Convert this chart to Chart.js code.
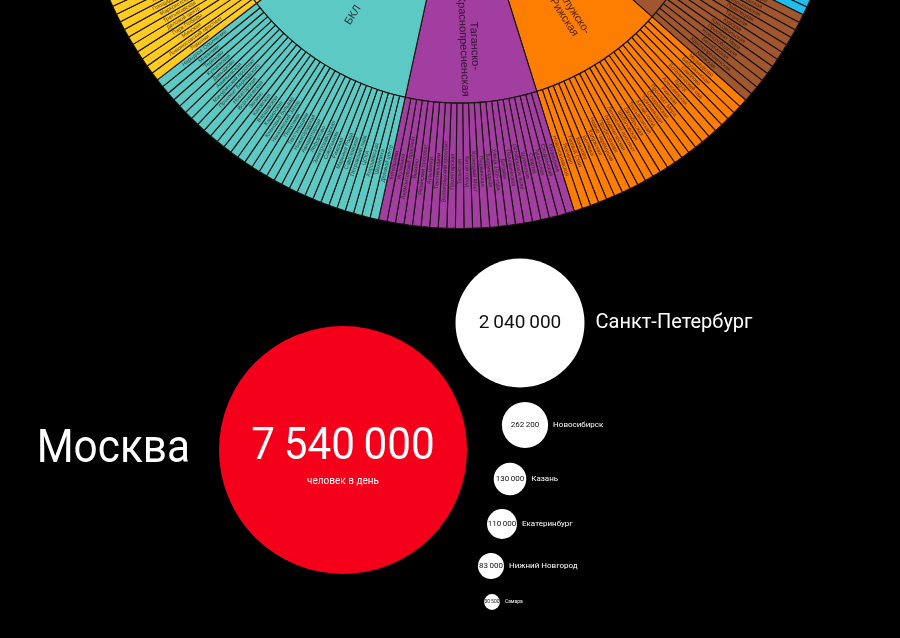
<!DOCTYPE html>
<html lang="ru">
<head>
<meta charset="utf-8">
<script src="https://cdn.jsdelivr.net/npm/chart.js@4.4.1/dist/chart.umd.min.js"></script>
<style>
  html,body{margin:0;padding:0;background:#000;width:900px;height:638px;overflow:hidden;}
  #sun{position:absolute;left:77px;top:-537px;}
  #bub{position:absolute;left:0;top:0;z-index:2;}
</style>
</head>
<body>
<canvas id="sun" width="766" height="766"></canvas>
<canvas id="bub" width="900" height="638"></canvas>
<script>
// ---------- DATA: metro lines (clockwise order) ----------
const lineNames = ['Сокольническая','Замоскворецкая','Арбатско-Покровская','Филёвская','Кольцевая',
  'Калужско-Рижская','Таганско-Краснопресненская','БКЛ','Калининско-Солнцевская',
  'Серпуховско-Тимирязевская','Люблинско-Дмитровская','МЦК'];
const line1 = ['Бульвар Рокоссовского','Черкизовская','Преображенская площадь','Сокольники','Красносельская','Комсомольская','Красные Ворота','Чистые пруды','Лубянка','Охотный Ряд','Библиотека им. Ленина','Кропоткинская','Парк культуры','Фрунзенская','Спортивная','Воробьёвы горы','Университет','Проспект Вернадского','Юго-Западная','Тропарёво','Румянцево','Саларьево','Филатов Луг','Прокшино','Ольховая','Коммунарка'];
const line2 = ['Ховрино','Беломорская','Речной вокзал','Водный стадион','Войковская','Сокол','Аэропорт','Динамо','Белорусская','Маяковская','Тверская','Театральная','Новокузнецкая','Павелецкая','Автозаводская','Технопарк','Коломенская','Каширская','Кантемировская','Царицыно','Орехово','Домодедовская','Красногвардейская','Алма-Атинская'];
const line3 = ['Пятницкое шоссе','Митино','Волоколамская','Мякинино','Строгино','Крылатское','Молодёжная','Кунцевская','Славянский бульвар','Парк Победы','Киевская','Смоленская','Арбатская','Площадь Революции','Курская','Бауманская','Электрозаводская','Семёновская','Партизанская','Измайловская','Первомайская','Щёлковская'];
const line4 = ['Кунцевская','Пионерская','Филёвский парк','Багратионовская','Фили','Кутузовская','Студенческая','Киевская','Смоленская','Арбатская','Александровский сад','Выставочная','Международная'];
const line5 = ['Парк культуры','Октябрьская','Добрынинская','Павелецкая','Таганская','Курская','Комсомольская','Проспект Мира','Новослободская','Белорусская','Краснопресненская','Киевская'];
const line6 = ['Медведково','Бабушкинская','Свиблово','Ботанический сад','ВДНХ','Алексеевская','Рижская','Проспект Мира','Сухаревская','Тургеневская','Китай-город','Третьяковская','Октябрьская','Шаболовская','Ленинский проспект','Академическая','Профсоюзная','Новые Черёмушки','Калужская','Беляево','Коньково','Тёплый Стан','Ясенево','Новоясеневская'];
const line7 = ['Планерная','Сходненская','Тушинская','Спартак','Щукинская','Октябрьское поле','Полежаевская','Беговая','Улица 1905 года','Баррикадная','Пушкинская','Кузнецкий Мост','Китай-город','Таганская','Пролетарская','Волгоградский проспект','Текстильщики','Кузьминки','Рязанский проспект','Выхино','Лермонтовский проспект','Жулебино','Котельники'];
const line11 = ['Деловой центр','Шелепиха','Хорошёвская','ЦСКА','Петровский парк','Савёловская','Марьина Роща','Рижская','Сокольники','Электрозаводская','Лефортово','Авиамоторная','Нижегородская','Текстильщики','Печатники','Нагатинский Затон','Кленовый бульвар','Каширская','Варшавская','Каховская','Зюзино','Воронцовская','Новаторская','Проспект Вернадского','Мичуринский проспект','Аминьевская','Давыдково','Кунцевская','Терехово','Мнёвники','Народное Ополчение'];
const line8 = ['Раменки','Ломоносовский проспект','Минская','Парк Победы','Деловой центр','Третьяковская','Марксистская','Площадь Ильича','Авиамоторная','Шоссе Энтузиастов','Перово','Новогиреево','Новокосино','Мичуринский проспект','Озёрная','Говорово','Солнцево','Боровское шоссе','Новопеределкино','Рассказовка','Пыхтино','Аэропорт Внуково'];
const line9 = ['Алтуфьево','Бибирево','Отрадное','Владыкино','Петровско-Разумовская','Тимирязевская','Дмитровская','Савёловская','Менделеевская','Цветной бульвар','Чеховская','Боровицкая','Полянка','Серпуховская','Тульская','Нагатинская','Нагорная','Нахимовский проспект','Севастопольская','Чертановская','Южная','Пражская','Ул. Академика Янгеля','Аннино','Бульвар Дмитрия Донского'];
const line10 = ['Физтех','Лианозово','Яхромская','Селигерская','Верхние Лихоборы','Окружная','Петровско-Разумовская','Фонвизинская','Бутырская','Марьина Роща','Достоевская','Трубная','Сретенский бульвар','Чкаловская','Римская','Крестьянская Застава','Дубровка','Кожуховская','Печатники','Волжская','Люблино','Братиславская','Марьино','Борисово','Шипиловская','Зябликово'];
const line14 = ['Окружная','Владыкино','Ботанический сад','Ростокино','Белокаменная','Бульвар Рокоссовского','Локомотив','Измайлово','Соколиная Гора','Шоссе Энтузиастов','Андроновка','Нижегородская','Новохохловская','Угрешская','Дубровка','Автозаводская','ЗИЛ','Верхние Котлы','Крымская','Площадь Гагарина','Лужники','Кутузовская','Деловой центр','Шелепиха','Хорошёво','Зорге','Панфиловская','Стрешнево','Балтийская','Коптево','Лихоборы'];
const lineStations = [line1,line2,line3,line4,line5,line6,line7,line11,line8,line9,line10,line14];

// ---------- DATA: cities ----------
const cities = ['Москва','Санкт-Петербург','Новосибирск','Казань','Екатеринбург','Нижний Новгород','Самара'];
const riders = [7540000, 2040000, 262200, 130000, 110000, 83000, 30500];

// ---------- STYLE / LAYOUT ----------
const lineColors = ['#E42313','#4FB04F','#0072BA','#22BDEF','#A0562F','#FE7E02','#A23EA0','#5CC9C5','#FFCB1F','#ADACAC','#BED12C','#F9BCD1'];
const bubbleX = [343, 520, 525, 510, 502, 491, 492];
const bubbleY = [450, 323, 425, 479, 524, 566, 602];
const bubbleColors = ['#F5001A','#fff','#fff','#fff','#fff','#fff','#fff'];
const numSize = [44, 19, 8, 8, 8, 8, 5];
const nameSize = [46, 20, 8, 8, 8, 8, 5];
const maxRadius = 124;

// ---------- build sunburst ----------
const stationLabels = [], stationValues = [], stationColors = [];
lineStations.forEach((st, i) => st.forEach(s => { stationLabels.push(s); stationValues.push(1); stationColors.push(lineColors[i]); }));
const lineValues = lineStations.map(s => s.length);

const sunLabels = {
  id: 'sunLabels',
  afterDatasetsDraw(chart) {
    const ctx = chart.ctx;
    [0, 1].forEach(di => {
      const meta = chart.getDatasetMeta(di);
      meta.data.forEach((arc, i) => {
        const p = arc.getProps(['x','y','startAngle','endAngle','innerRadius','outerRadius'], true);
        const mid = (p.startAngle + p.endAngle) / 2;
        const r = di === 0 ? (p.innerRadius + p.outerRadius) / 2 + 6 : p.outerRadius - 57;
        const cx = p.x + Math.cos(mid) * r, cy = p.y + Math.sin(mid) * r;
        ctx.save();
        ctx.translate(cx, cy);
        ctx.rotate(Math.cos(mid) >= 0 ? mid : mid + Math.PI);
        ctx.textAlign = 'center'; ctx.textBaseline = 'middle';
        if (di === 0) {
          ctx.font = '5.5px "Liberation Sans", Arial, sans-serif';
          ctx.fillStyle = 'rgba(20,10,0,0.72)';
          ctx.fillText(stationLabels[i], 0, 0);
        } else {
          ctx.font = '11px "Liberation Sans", Arial, sans-serif';
          ctx.fillStyle = 'rgba(0,0,0,0.72)';
          const name = lineNames[i];
          const parts = name.includes('-') ? [name.slice(0, name.indexOf('-') + 1), name.slice(name.indexOf('-') + 1)] : [name];
          const lh = 11;
          parts.forEach((t, k) => ctx.fillText(t, 0, (k - (parts.length - 1) / 2) * lh));
        }
        ctx.restore();
      });
    });
  }
};

new Chart(document.getElementById('sun'), {
  type: 'doughnut',
  data: {
    labels: stationLabels,
    datasets: [
      { data: stationValues, backgroundColor: stationColors, borderColor: '#1a1410', borderWidth: 1.1, weight: 125 },
      { data: lineValues, backgroundColor: lineColors, borderColor: '#1a1410', borderWidth: 1.1, weight: 157 }
    ]
  },
  options: {
    responsive: false, animation: false, devicePixelRatio: 1,
    rotation: 6.5, cutout: '26.1%',
    layout: { padding: 0 },
    plugins: { legend: { display: false }, tooltip: { enabled: false } }
  },
  plugins: [sunLabels]
});

// ---------- bubbles ----------
function fmt(v) { return String(v).replace(/\B(?=(\d{3})+(?!\d))/g, '\u2009'); }
const bubbleData = riders.map((v, i) => ({ x: bubbleX[i], y: bubbleY[i], r: maxRadius * Math.sqrt(v / riders[0]) }));

const bubLabels = {
  id: 'bubLabels',
  afterDatasetsDraw(chart) {
    const ctx = chart.ctx;
    const meta = chart.getDatasetMeta(0);
    meta.data.forEach((pt, i) => {
      const r = bubbleData[i].r;
      ctx.save();
      ctx.textBaseline = 'middle';
      if (i === 0) {
        ctx.fillStyle = '#fff';
        ctx.textAlign = 'center';
        ctx.save(); ctx.translate(pt.x, pt.y - 2); ctx.scale(0.96, 1);
        ctx.font = numSize[i] + 'px Roboto, sans-serif';
        ctx.fillText(fmt(riders[i]), 0, 0); ctx.restore();
        ctx.font = '10px Roboto, sans-serif';
        ctx.fillText('человек в день', pt.x, pt.y + 31);
        ctx.save(); ctx.translate(pt.x - r - 29, pt.y); ctx.scale(0.92, 1);
        ctx.textAlign = 'right';
        ctx.font = nameSize[i] + 'px Roboto, sans-serif';
        ctx.fillText(cities[i], 0, 0); ctx.restore();
      } else {
        ctx.fillStyle = '#111';
        ctx.textAlign = 'center';
        ctx.font = numSize[i] + 'px Roboto, sans-serif';
        ctx.fillText(fmt(riders[i]), pt.x, pt.y);
        ctx.fillStyle = '#fff';
        ctx.textAlign = 'left';
        ctx.font = nameSize[i] + 'px Roboto, sans-serif';
        ctx.fillText(cities[i], pt.x + r + (i === 1 ? 11 : 5), pt.y);
      }
      ctx.restore();
    });
  }
};

new Chart(document.getElementById('bub'), {
  type: 'bubble',
  data: { datasets: [{ data: bubbleData, backgroundColor: bubbleColors, borderWidth: 0, hoverRadius: 0, clip: false }] },
  options: {
    responsive: false, animation: false, devicePixelRatio: 1,
    layout: { padding: 0, autoPadding: false },
    scales: {
      x: { type: 'linear', min: 0, max: 900, display: false },
      y: { type: 'linear', min: 0, max: 638, reverse: true, display: false }
    },
    plugins: { legend: { display: false }, tooltip: { enabled: false } }
  },
  plugins: [bubLabels]
});
</script>
</body>
</html>
